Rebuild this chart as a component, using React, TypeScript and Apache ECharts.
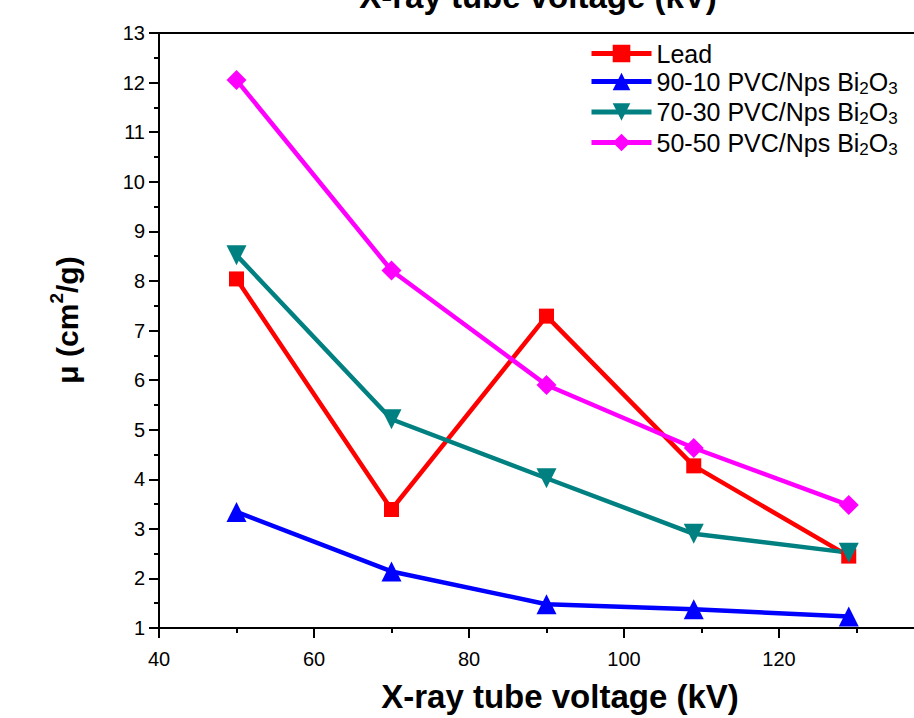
import React, { useEffect, useRef } from "react";
import * as echarts from "echarts";

const voltages = [50, 70, 90, 109, 129];
const leadValues = [8.04, 3.39, 7.29, 4.27, 2.45];
const pvc9010Values = [3.34, 2.14, 1.48, 1.38, 1.23];
const pvc7030Values = [8.52, 5.21, 4.02, 2.9, 2.52];
const pvc5050Values = [12.05, 8.21, 5.9, 4.63, 3.48];

const seriesNames = [
  "Lead",
  "90-10 PVC/Nps Bi2O3",
  "70-30 PVC/Nps Bi2O3",
  "50-50 PVC/Nps Bi2O3",
];
const legendRich: Record<string, string> = {
  "Lead": "{n|Lead}",
  "90-10 PVC/Nps Bi2O3": "{n|90-10 PVC/Nps Bi}{s|2}{n|O}{s|3}",
  "70-30 PVC/Nps Bi2O3": "{n|70-30 PVC/Nps Bi}{s|2}{n|O}{s|3}",
  "50-50 PVC/Nps Bi2O3": "{n|50-50 PVC/Nps Bi}{s|2}{n|O}{s|3}",
};

const xTitle = "X-ray tube voltage (kV)";
const FONT = "'Liberation Sans', Arial, Helvetica, sans-serif";

export default function App() {
  const ref = useRef<HTMLDivElement>(null);

  useEffect(() => {
    if (!ref.current) return;
    const chart = echarts.init(ref.current, null, { renderer: "svg" });
    const pair = (vals: number[]) => voltages.map((x, i) => [x, vals[i]]);

    const mk = (
      name: string,
      vals: number[],
      color: string,
      symbol: string,
      size: number,
      rotate = 0
    ) => ({
      name,
      type: "line",
      data: pair(vals),
      symbol,
      symbolSize: size,
      symbolRotate: rotate,
      symbolKeepAspect: true,
      showAllSymbol: true,
      lineStyle: { color, width: 4.5 },
      itemStyle: { color },
      z: 3,
    });

    chart.setOption({
      animation: false,
      backgroundColor: "#ffffff",
      textStyle: { fontFamily: FONT },
      grid: {
        left: 159,
        top: 33,
        width: 775,
        height: 595,
        containLabel: false,
        outerBoundsMode: "none",
      },
      legend: {
        orient: "vertical",
        left: 589,
        top: 41,
        padding: 0,
        itemGap: 3,
        itemWidth: 60,
        itemHeight: 22,
        data: seriesNames,
        lineStyle: { width: 5 },
        formatter: (name: string) => legendRich[name] || name,
        textStyle: {
          fontFamily: FONT,
          color: "#000",
          fontSize: 25,
          rich: {
            n: { fontSize: 25, lineHeight: 30, color: "#000", fontFamily: FONT },
            s: {
              fontSize: 17,
              lineHeight: 5,
              verticalAlign: "bottom",
              color: "#000",
              fontFamily: FONT,
            },
          },
        },
      },
      xAxis: [
        {
          type: "value",
          min: 40,
          max: 140,
          interval: 20,
          position: "bottom",
          axisLine: { show: true, onZero: false, lineStyle: { color: "#000", width: 2 } },
          axisTick: { show: true, inside: false, length: 10, lineStyle: { color: "#000", width: 2 } },
          minorTick: { show: true, splitNumber: 2, length: 5, lineStyle: { color: "#000", width: 2 } },
          axisLabel: {
            color: "#000",
            fontSize: 20,
            margin: 21,
            fontFamily: FONT,
            showMaxLabel: false,
          },
          splitLine: { show: false },
        },
        {
          type: "value",
          min: 40,
          max: 140,
          interval: 20,
          position: "top",
          axisLine: { show: true, onZero: false, lineStyle: { color: "#000", width: 2 } },
          axisTick: { show: false },
          axisLabel: { show: false },
          splitLine: { show: false },
        },
      ],
      yAxis: {
        type: "value",
        min: 1,
        max: 13,
        interval: 1,
        axisLine: { show: true, onZero: false, lineStyle: { color: "#000", width: 2 } },
        axisTick: { show: true, inside: false, length: 10, lineStyle: { color: "#000", width: 2 } },
        minorTick: { show: true, splitNumber: 2, length: 5, lineStyle: { color: "#000", width: 2 } },
        axisLabel: { color: "#000", fontSize: 20, margin: 14, fontFamily: FONT },
        splitLine: { show: false },
      },
      graphic: [
        {
          type: "text",
          x: 538,
          y: -4,
          style: {
            text: xTitle,
            font: `bold 33px ${FONT}`,
            fill: "#000",
            align: "center",
            verticalAlign: "middle",
          },
        },
        {
          type: "text",
          x: 560,
          y: 696,
          style: {
            text: xTitle,
            font: `bold 33px ${FONT}`,
            fill: "#000",
            align: "center",
            verticalAlign: "middle",
          },
        },
        {
          type: "text",
          x: 67,
          y: 320,
          rotation: Math.PI / 2,
          style: {
            text: "{b|μ (cm}{p|2}{b|/g)}",
            fill: "#000",
            align: "center",
            verticalAlign: "middle",
            rich: {
              b: { fontSize: 30, fontWeight: "bold", lineHeight: 40, fontFamily: FONT, fill: "#000" },
              p: {
                fontSize: 19,
                fontWeight: "bold",
                lineHeight: 6,
                verticalAlign: "top",
                fontFamily: FONT,
                fill: "#000",
              },
            },
          },
        },
      ],
      series: [
        mk(seriesNames[0], leadValues, "#ff0000", "rect", 15),
        mk(seriesNames[1], pvc9010Values, "#0000ff", "triangle", 20),
        mk(seriesNames[2], pvc7030Values, "#008080", "triangle", 20, 180),
        mk(seriesNames[3], pvc5050Values, "#ff00ff", "diamond", 20),
      ],
    });

    return () => chart.dispose();
  }, []);

  return (
    <div
      ref={ref}
      style={{ position: "fixed", left: 0, top: 0, width: 914, height: 718 }}
    />
  );
}
